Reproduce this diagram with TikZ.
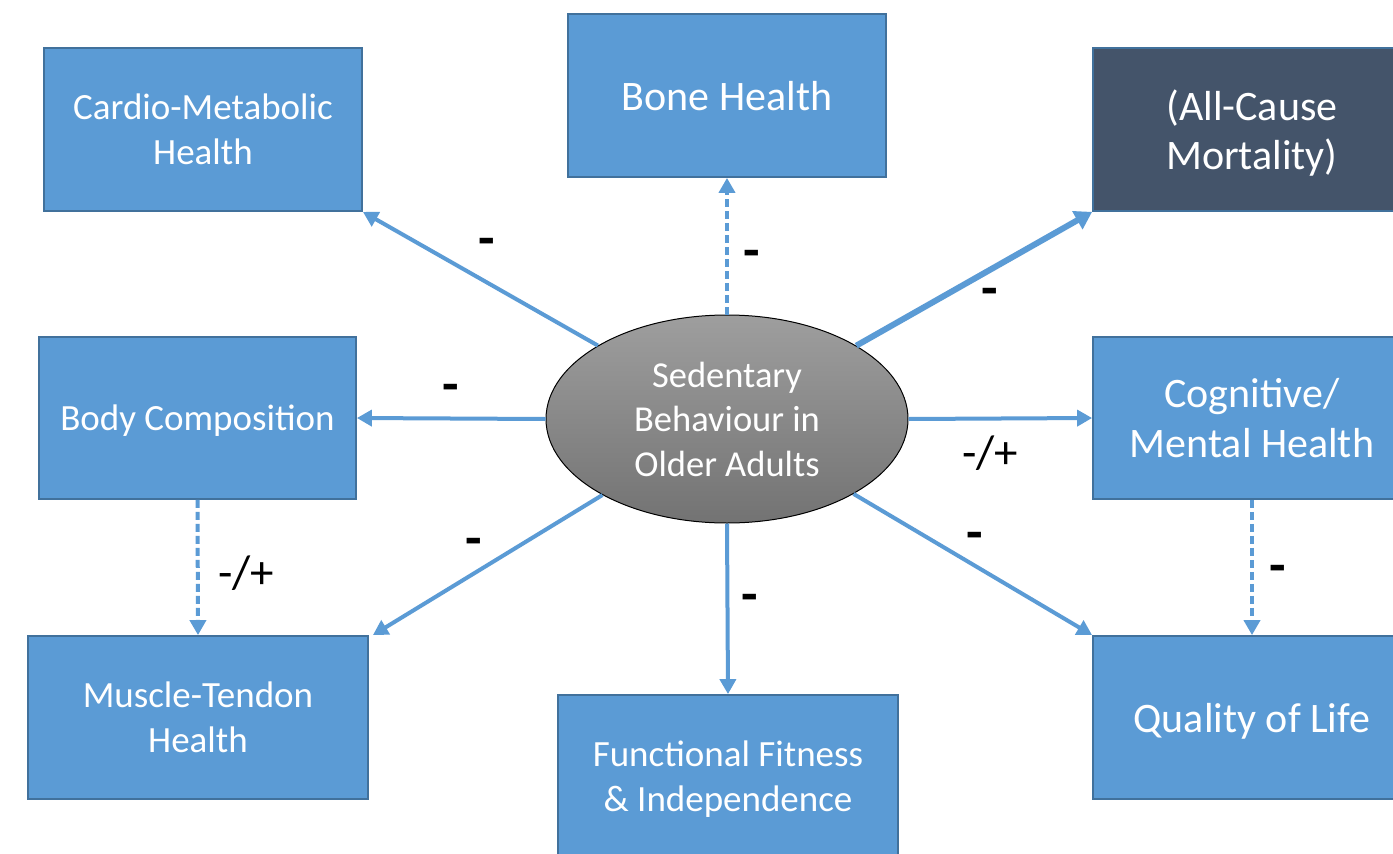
\documentclass[tikz,border=0pt]{standalone}
\usepackage{fontspec}
\setmainfont{Carlito}
\usetikzlibrary{arrows.meta,shapes.geometric}
\definecolor{boxblue}{HTML}{5B9BD5}
\definecolor{boxedge}{HTML}{41719C}
\definecolor{darkbox}{HTML}{44546A}
\tikzset{
  box/.style={draw=boxedge, line width=1.8pt, fill=boxblue, text=white, align=center, inner sep=0pt, text depth=0pt},
  smalltxt/.style={font=\fontsize{37}{45}\selectfont},
  bigtxt/.style={font=\fontsize{42}{49.5}\selectfont},
  conn/.style={draw=boxblue, line width=4pt, -{Triangle[length=15pt,width=16pt]}},
  thickconn/.style={draw=boxblue, line width=6pt, -{Triangle[length=17pt,width=20pt]}},
  dashconn/.style={conn, dash pattern=on 8pt off 4pt},
  sign/.style={font=\bfseries\fontsize{54}{54}\selectfont, inner sep=0pt},
  pm/.style={font=\fontsize{47}{47}\selectfont, inner sep=0pt},
}
\begin{document}
\begin{tikzpicture}[x=1pt,y=-1pt]
\useasboundingbox (0,0) rectangle (1393,854);
\clip (0,0) rectangle (1393,854);
\fill[white] (0,0) rectangle (1393,854);
% boxes
\node[box, smalltxt, minimum width=318pt, minimum height=163pt] (cardio) at (203,129.5) {Cardio-Metabolic\\Health};
\node[box, bigtxt, minimum width=318pt, minimum height=163pt] (bone) at (727,95.5) {Bone Health};
\node[box, bigtxt, fill=darkbox, minimum width=318pt, minimum height=163pt] (mort) at (1252,129.5) {(All-Cause\\Mortality)};
\node[box, smalltxt, minimum width=317pt, minimum height=162pt] (body) at (197.5,418) {Body Composition};
\node[box, bigtxt, minimum width=318pt, minimum height=162pt] (cog) at (1252,418) {Cognitive/\\Mental Health};
\node[box, smalltxt, minimum width=340pt, minimum height=163pt] (muscle) at (198,717.5) {Muscle-Tendon\\Health};
\node[box, smalltxt, minimum width=340pt, minimum height=163pt] (func) at (728,776.5) {Functional Fitness\\\& Independence};
\node[box, bigtxt, minimum width=318pt, minimum height=163pt] (qual) at (1252,717.5) {Quality of Life};
% central ellipse
\node[ellipse, draw=black, line width=1pt, top color=black!38, bottom color=black!55, text=white, align=center,
      minimum width=362pt, minimum height=208pt, inner sep=0pt, font=\fontsize{36.5}{44.5}\selectfont] (sb) at (727,419)
      {Sedentary\\Behaviour in\\Older Adults};
% connectors
\draw[conn] (sb) -- (cardio.south east);
\draw[dashconn] (sb.north) -- (bone.south);
\draw[thickconn] (sb) -- (mort.south west);
\draw[conn] (sb.west) -- (body.east);
\draw[conn] (sb.east) -- (cog.west);
\draw[conn] (sb) -- ([xshift=4pt]muscle.north east);
\draw[conn] (sb.south) -- (func.north);
\draw[conn] (sb) -- (qual.north west);
\draw[dashconn] (body.south) -- (muscle.north);
\draw[dashconn] (cog.south) -- (qual.north);
% signs
\node[sign] (s1) at (487,247) {-};
\node[sign] (s2) at (752,259) {-};
\node[sign] (s3) at (990,297) {-};
\node[sign] (s4) at (451,393) {-};
\node[sign] (s5) at (474,547) {-};
\node[sign] (s6) at (750,603) {-};
\node[sign] (s7) at (975,541) {-};
\node[sign] (s8) at (1278,574) {-};
\node[pm] (p1) at (990,453) {-/+};
\node[pm] (p2) at (246,573) {-/+};
\end{tikzpicture}
\end{document}
